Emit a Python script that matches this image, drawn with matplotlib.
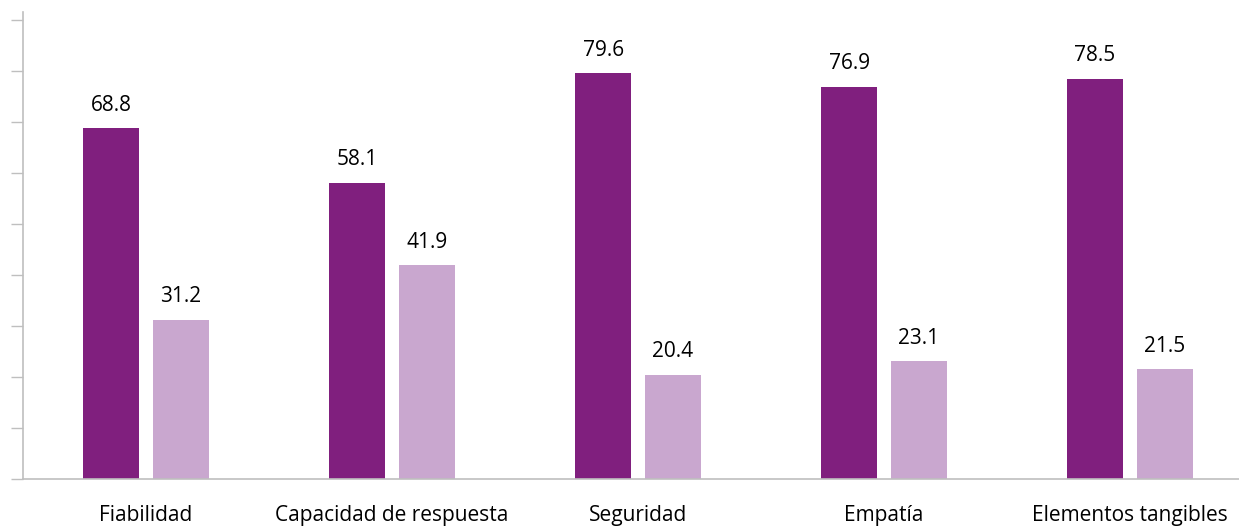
import matplotlib.pyplot as plt
import numpy as np

categorias = ["Fiabilidad", "Capacidad de respuesta", "Seguridad", "Empatía", "Elementos tangibles"]
serie_a = [68.8, 58.1, 79.6, 76.9, 78.5]
serie_b = [31.2, 41.9, 20.4, 23.1, 21.5]

color_a = "#801F7E"
color_b = "#C9A7CF"
gris = "#BFBFBF"

plt.rcParams['font.family'] = ['Open Sans', 'DejaVu Sans']

fig = plt.figure(figsize=(12.39, 5.29), dpi=100)
# the axes run past the right edge of the figure, as in the reference
ax = fig.add_axes([23 / 1239, 50 / 529, 1230 / 1239, (479 - 12) / 529])

x = np.arange(len(categorias))
ancho = 0.225
desp = 0.142

barras_a = ax.bar(x - desp, serie_a, ancho, color=color_a)
barras_b = ax.bar(x + desp, serie_b, ancho, color=color_b)

for barras in (barras_a, barras_b):
    for b in barras:
        ax.annotate(f"{b.get_height():.1f}", (b.get_x() + b.get_width() / 2, b.get_height()),
                    xytext=(0, 9), textcoords="offset points", ha="center", va="bottom",
                    fontsize=15, color="black")

ax.set_xlim(-0.5, len(categorias) - 0.5)
ax.set_ylim(0, 91.6)
ax.set_yticks(np.arange(0, 91, 10))
ax.set_yticklabels([])
ax.set_xticks(x)
ax.set_xticklabels(categorias, fontsize=15)
ax.tick_params(axis="x", length=0, pad=19)
ax.tick_params(axis="y", length=8.6, width=1, color=gris, direction="out")

for lado in ("top", "right"):
    ax.spines[lado].set_visible(False)
for lado in ("left", "bottom"):
    ax.spines[lado].set_color(gris)
    ax.spines[lado].set_linewidth(1.2)

fig.savefig("out.png", dpi=100)
